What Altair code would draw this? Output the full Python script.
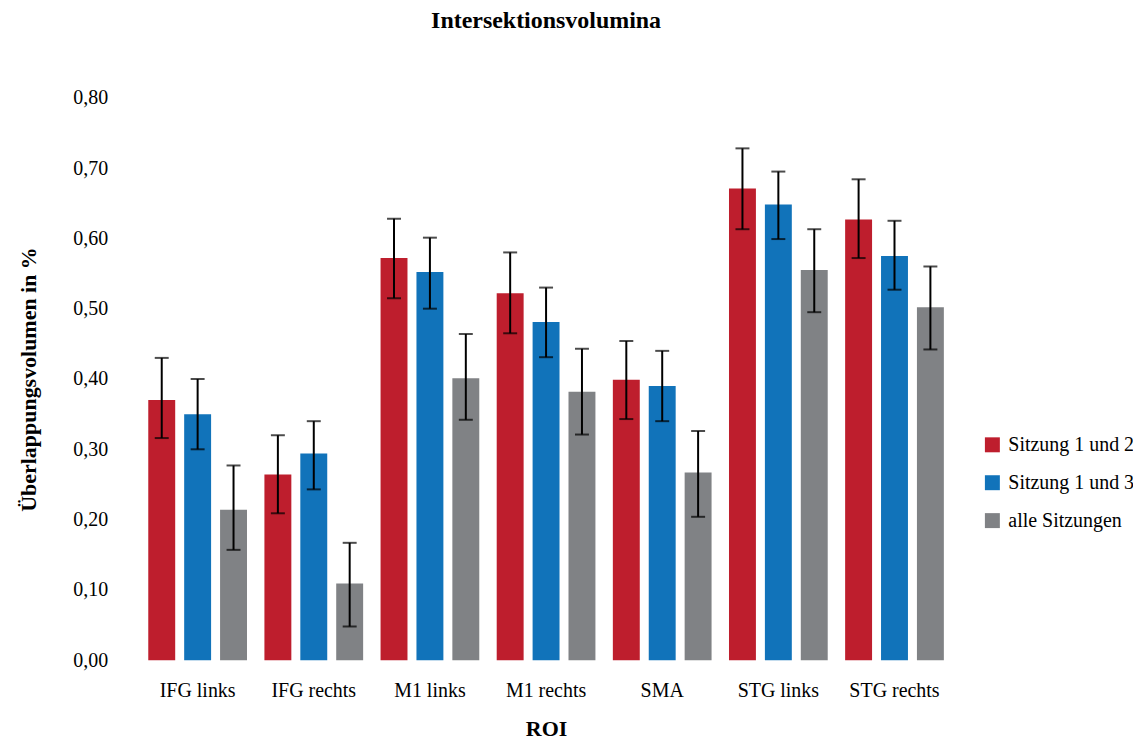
import altair as alt
import pandas as pd

rois = ["IFG links", "IFG rechts", "M1 links", "M1 rechts", "SMA", "STG links", "STG rechts"]
series = ["Sitzung 1 und 2", "Sitzung 1 und 3", "alle Sitzungen"]
colors = ["#BE1E2D", "#1173BA", "#808285"]

s12 = [0.370, 0.264, 0.572, 0.522, 0.399, 0.671, 0.627]
s13 = [0.350, 0.294, 0.552, 0.481, 0.390, 0.648, 0.575]
alle = [0.214, 0.109, 0.401, 0.382, 0.267, 0.555, 0.502]

s12_lo = [0.316, 0.209, 0.515, 0.465, 0.343, 0.613, 0.572]
s12_hi = [0.430, 0.320, 0.628, 0.580, 0.454, 0.728, 0.684]
s13_lo = [0.300, 0.243, 0.500, 0.431, 0.340, 0.599, 0.527]
s13_hi = [0.400, 0.340, 0.601, 0.530, 0.440, 0.695, 0.625]
alle_lo = [0.157, 0.048, 0.342, 0.321, 0.204, 0.495, 0.442]
alle_hi = [0.277, 0.167, 0.464, 0.443, 0.326, 0.613, 0.560]

rows = []
for vals, lo, hi, s in [(s12, s12_lo, s12_hi, series[0]),
                        (s13, s13_lo, s13_hi, series[1]),
                        (alle, alle_lo, alle_hi, series[2])]:
    for r, v, l, h in zip(rois, vals, lo, hi):
        rows.append({"ROI": r, "Serie": s, "Wert": v, "lo": l, "hi": h})
df = pd.DataFrame(rows)

FONT = "Liberation Serif"

x = alt.X("ROI:N", sort=rois, title="ROI",
          scale=alt.Scale(paddingInner=0.15, paddingOuter=0.1),
          axis=alt.Axis(labelAngle=0, ticks=False, domain=False, labelPadding=20,
                        titlePadding=18, labelFontSize=20, titleFontSize=22,
                        titleFontWeight="bold", labelColor="#000", titleColor="#000"))
xo = alt.XOffset("Serie:N", sort=series, scale=alt.Scale(paddingInner=0.25))

base = alt.Chart(df)

bars = base.mark_bar().encode(
    x=x, xOffset=xo,
    y=alt.Y("Wert:Q", title="Überlappungsvolumen in %",
            scale=alt.Scale(domain=[0, 0.8]),
            axis=alt.Axis(values=[0, 0.1, 0.2, 0.3, 0.4, 0.5, 0.6, 0.7, 0.8],
                          labelExpr="replace(format(datum.value, '.2f'), '.', ',')",
                          ticks=False, domain=False, grid=False, labelPadding=29,
                          titlePadding=32, labelFontSize=20, titleFontSize=22,
                          titleFontWeight="bold", labelColor="#000", titleColor="#000")),
    color=alt.Color("Serie:N", sort=series,
                    scale=alt.Scale(domain=series, range=colors),
                    legend=alt.Legend(title=None, orient="none", legendX=848, legendY=338,
                                      symbolType="square", symbolSize=225,
                                      symbolStrokeWidth=0, labelFontSize=20,
                                      labelColor="#000", rowPadding=18, labelOffset=6)),
)

rules = base.mark_rule(color="black", strokeWidth=2).encode(
    x=alt.X("ROI:N", sort=rois), xOffset=xo,
    y="lo:Q", y2="hi:Q",
)
caps_lo = base.mark_tick(color="black", thickness=2, size=14).encode(
    x=alt.X("ROI:N", sort=rois), xOffset=xo, y="lo:Q")
caps_hi = base.mark_tick(color="black", thickness=2, size=14).encode(
    x=alt.X("ROI:N", sort=rois), xOffset=xo, y="hi:Q")

chart = alt.layer(bars, rules, caps_lo, caps_hi).properties(
    width=821, height=564,
    title=alt.TitleParams("Intersektionsvolumina", fontSize=24, fontWeight="bold",
                          font=FONT, color="#000", offset=55, anchor="middle"),
    autosize=alt.AutoSizeParams(type="none"),
    padding={"left": 129, "top": 89, "right": 178, "bottom": 82},
).configure(font=FONT).configure_view(stroke=None)

chart.save("out.html", embed_options={"renderer": "svg", "actions": False})
